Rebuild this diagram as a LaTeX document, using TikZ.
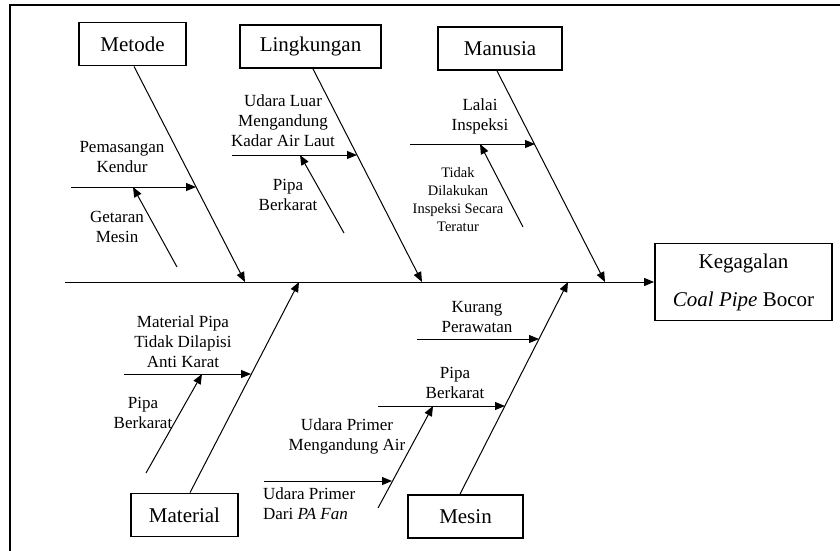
\documentclass[tikz,border=0pt]{standalone}
\usepackage{fontspec}
\setmainfont{Liberation Serif}
\usetikzlibrary{arrows.meta}

\tikzset{every picture/.style={line width=0.75pt}}

\begin{document}
\begin{tikzpicture}[x=1pt,y=1pt,yscale=-1,xscale=1,
  kategori/.style={draw,line width=1.8,minimum height=43,inner sep=0pt,font=\fontsize{21}{25}\selectfont},
  sebab/.style={align=center,inner sep=0.75pt,font=\fontsize{17}{20}\selectfont},
  sebabkecil/.style={align=center,inner sep=0.75pt,font=\fontsize{14.5}{18}\selectfont},
  panah/.style={line width=1,-{Triangle[length=10pt,width=8pt]}}]
\useasboundingbox (0,0) rectangle (840,550);
%Frame
\draw [line width=2.4] (10,556) -- (10,5) -- (846,5);

%Category boxes
\node [kategori,minimum width=107] (metode) at (132.5,44) {Metode};
\node [kategori,minimum width=141] (lingkungan) at (310.5,46.5) {Lingkungan};
\node [kategori,minimum width=124] (manusia) at (500,48.5) {Manusia};
\node [kategori,minimum width=107] (material) at (184.5,515) {Material};
\node [kategori,minimum width=115] (mesin) at (465.5,516.5) {Mesin};
\node [kategori,minimum width=177,minimum height=77,align=center,font=\fontsize{21}{38}\selectfont] (kegagalan) at (743.5,282) {Kegagalan\\\textit{Coal Pipe} Bocor};

%Spine and bones
\coordinate (ekor) at (65,282);
\coordinate (ujungMetode) at (245,282);
\coordinate (ujungLingkungan) at (422,282);
\coordinate (ujungManusia) at (605,282);
\coordinate (ujungMaterial) at (299,282);
\coordinate (ujungMesin) at (568,282);
\draw [panah] (ekor) -- (kegagalan);
\draw [panah] ([xshift=1.5]metode.south) -- (ujungMetode);
\draw [panah] ([xshift=2.5]lingkungan.south) -- (ujungLingkungan);
\draw [panah] ([xshift=-3]manusia.south) -- (ujungManusia);
\draw [panah] ([xshift=5.5]material.north) -- (ujungMaterial);
\draw [panah] ([xshift=-5.5]mesin.north) -- (ujungMesin);

%Metode
\coordinate (pemasanganA) at (71,187);
\coordinate (pemasanganB) at (196,187);
\coordinate (getaranA) at (177,267);
\coordinate (getaranB) at (133,187);
\draw [panah] (pemasanganA) -- (pemasanganB);
\draw [panah] (getaranA) -- (getaranB);
\node [sebab] (pemasangan) at (122,157) {Pemasangan\\Kendur};
\node [sebab] (getaran) at (117,227) {Getaran\\Mesin};

%Lingkungan
\coordinate (udaraLuarA) at (232,155);
\coordinate (udaraLuarB) at (357,155);
\coordinate (pipaLA) at (344,233);
\coordinate (pipaLB) at (300,155);
\draw [panah] (udaraLuarA) -- (udaraLuarB);
\draw [panah] (pipaLA) -- (pipaLB);
\node [sebab] (udaraLuar) at (283,121) {Udara Luar\\Mengandung\\Kadar Air Laut};
\node [sebab] (pipaL) at (288,195) {Pipa\\Berkarat};

%Manusia
\coordinate (lalaiA) at (410,144);
\coordinate (lalaiB) at (535,144);
\coordinate (tidakA) at (523,227);
\coordinate (tidakB) at (480,144);
\draw [panah] (lalaiA) -- (lalaiB);
\draw [panah] (tidakA) -- (tidakB);
\node [sebab] (lalai) at (480,116) {Lalai\\Inspeksi};
\node [sebabkecil] (tidak) at (458,200) {Tidak\\Dilakukan\\Inspeksi Secara\\Teratur};

%Material
\coordinate (lapisA) at (124,374);
\coordinate (lapisB) at (251,374);
\coordinate (pipaMA) at (146,473);
\coordinate (pipaMB) at (202,374);
\draw [panah] (lapisA) -- (lapisB);
\draw [panah] (pipaMA) -- (pipaMB);
\node [sebab] (lapis) at (183,342) {Material Pipa\\Tidak Dilapisi\\Anti Karat};
\node [sebab] (pipaM) at (143,413) {Pipa\\Berkarat};

%Mesin
\coordinate (rawatA) at (417,339);
\coordinate (rawatB) at (539,339);
\coordinate (pipaSA) at (378,406);
\coordinate (pipaSB) at (505,406);
\coordinate (airA) at (378,508);
\coordinate (airB) at (433,406);
\coordinate (fanA) at (264,481);
\coordinate (fanB) at (392,481);
\draw [panah] (rawatA) -- (rawatB);
\draw [panah] (pipaSA) -- (pipaSB);
\draw [panah] (airA) -- (airB);
\draw [panah] (fanA) -- (fanB);
\node [sebab] (rawat) at (477,317) {Kurang\\Perawatan};
\node [sebab] (pipaS) at (455,383) {Pipa\\Berkarat};
\node [sebab] (air) at (347,436) {Udara Primer\\Mengandung Air};
\node [sebab,align=left,anchor=west] (fan) at (262,504) {Udara Primer\\Dari \textit{PA Fan}};
\end{tikzpicture}
\end{document}
